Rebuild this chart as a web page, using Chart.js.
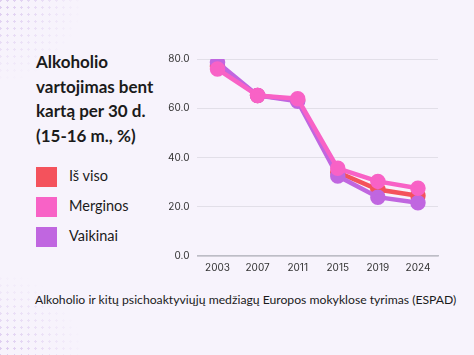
<!DOCTYPE html>
<html><head><meta charset="utf-8">
<script src="https://cdn.jsdelivr.net/npm/chart.js@4"></script>
<style>
html,body{margin:0;padding:0;}
body{width:474px;height:355px;background:#f7f3fc;position:relative;overflow:hidden;font-family:"Lato",sans-serif;color:#1b1b1b;}
.dots{position:absolute;width:90px;height:90px;background-image:radial-gradient(circle,#d9c6ee 1px,transparent 1.4px);background-size:7px 7px;opacity:0.8;}
#d1{left:-10px;top:-10px;-webkit-mask-image:radial-gradient(circle at 0 0,#000 20%,transparent 75%);mask-image:radial-gradient(circle at 0 0,#000 20%,transparent 75%);}
#d2{left:-10px;top:275px;-webkit-mask-image:radial-gradient(circle at 0 100%,#000 20%,transparent 75%);mask-image:radial-gradient(circle at 0 100%,#000 20%,transparent 75%);}
#title{position:absolute;left:36px;top:50px;font-weight:700;font-size:17px;line-height:24.5px;}
.leg{position:absolute;left:36px;font-size:14.5px;}
.sw{position:absolute;left:0;top:0;width:21px;height:20px;}
.lt{position:absolute;left:33px;top:0px;white-space:nowrap;}
#foot{position:absolute;left:35px;top:292px;font-size:12.2px;white-space:nowrap;}
#wrap{position:absolute;left:160px;top:45px;width:290px;height:235px;}
</style></head><body>
<div class="dots" id="d1"></div>
<div class="dots" id="d2"></div>
<div id="title">Alkoholio<br>vartojimas bent<br>kartą per 30 d.<br>(15-16 m., %)</div>
<div id="legend"></div>
<div id="foot">Alkoholio ir kitų psichoaktyviųjų medžiagų Europos mokyklose tyrimas (ESPAD)</div>
<div id="wrap"><canvas id="c"></canvas></div>
<script>
const years = ["2003","2007","2011","2015","2019","2024"];
const seriesNames = ["Iš viso","Merginos","Vaikinai"];
const total = [77.0, 65.2, 63.3, 34.0, 27.0, 24.5];
const girls = [75.9, 65.2, 63.9, 35.6, 30.3, 27.5];
const boys = [78.6, 65.2, 62.8, 32.5, 23.9, 21.6];
const colors = ["#f4525c","#f862c6","#c066e0"];
const yTicks = [0,20,40,60,80];

const lg = document.getElementById('legend');
seriesNames.forEach((n,i)=>{
  const d=document.createElement('div');d.className='leg';d.style.top=(167+i*30)+'px';
  d.innerHTML='<div class="sw" style="background:'+colors[i]+'"></div><div class="lt">'+n+'</div>';
  lg.appendChild(d);
});

const vals=[total,girls,boys];
const order=[3,1,2];
new Chart(document.getElementById('c'),{
  type:'line',
  data:{labels:years,datasets:vals.map((v,i)=>({label:seriesNames[i],data:v,borderColor:colors[i],backgroundColor:colors[i],borderWidth:4.5,pointRadius:5.5,pointHoverRadius:5.5,order:order[i],tension:0}))},
  options:{responsive:true,maintainAspectRatio:false,animation:false,
    layout:{padding:{left:0,right:12,top:6,bottom:0}},
    plugins:{legend:{display:false},tooltip:{enabled:false}},
    scales:{
      x:{offset:true,grid:{display:false,drawTicks:false,offset:true},border:{color:'#bdbdc6',width:1.5},ticks:{color:'#333',font:{family:'Inter',size:10},padding:6}},
      y:{min:0,max:80,afterBuildTicks:s=>{s.ticks=yTicks.map(v=>({value:v}));},grid:{color:'#e2dfe8',drawTicks:false},border:{display:false},ticks:{color:'#333',font:{family:'Inter',size:10},padding:8,callback:v=>v.toFixed(1)}}
    }
  }
});
</script>
</body></html>
